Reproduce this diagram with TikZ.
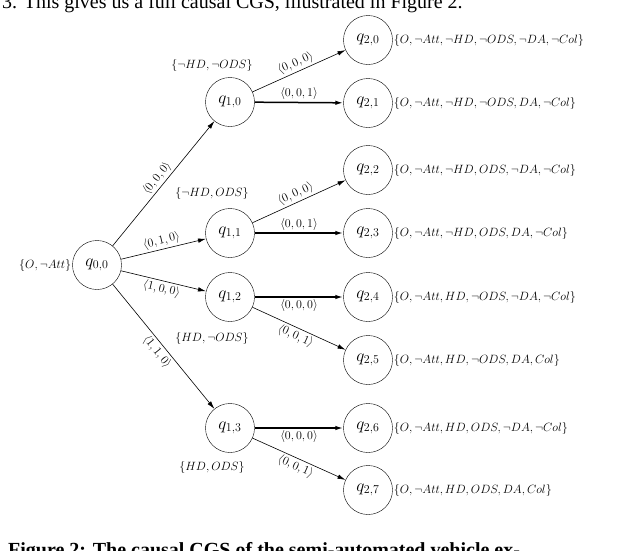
\documentclass[tikz,border=0pt]{standalone}
\usepackage{fontspec}
\setmainfont{Liberation Serif}
\usetikzlibrary{arrows.meta}
\begin{document}
\begin{tikzpicture}[x=1pt,y=-1pt,
  st/.style={circle,draw,minimum size=49pt,inner sep=0pt,font=\fontsize{17.28}{18}\selectfont},
  lab/.style={font=\fontsize{12}{13}\selectfont,inner sep=1pt},
  tr/.style={-{Latex[length=8pt,width=4.5pt]},line width=0.6pt},
  trb/.style={-{Latex[length=8pt,width=4.5pt]},line width=1.5pt},
  el/.style={font=\fontsize{12}{13}\selectfont,inner sep=2pt,sloped}]
\useasboundingbox (0,0) rectangle (640,550);
\clip (0,0) rectangle (640,550);
\node[anchor=base west,font=\fontsize{20}{20}\selectfont,inner sep=0pt] (top) at (2,8) {3. This gives us a full causal CGS, illustrated in Figure 2.};
\node[anchor=base west,font=\bfseries\fontsize{20}{20}\selectfont,inner sep=0pt] (cap) at (8,556) {Figure 2: The causal CGS of the semi-automated vehicle ex-};
\node[st] (q00) at (97,265) {$q_{0,0}$};
\node[st] (q10) at (230,102) {$q_{1,0}$};
\node[st] (q11) at (230,233) {$q_{1,1}$};
\node[st] (q12) at (230,297) {$q_{1,2}$};
\node[st] (q13) at (230,428) {$q_{1,3}$};
\foreach \i/\y in {0/40,1/103,2/170,3/233,4/297,5/360,6/428,7/490}
  \node[st] (q2\i) at (368,\y) {$q_{2,\i}$};
\node[lab,anchor=east] (l00) at (q00.west) {$\{O,\neg Att\}$};
\node[lab] (l10) at (212,65) {$\{\neg HD,\neg ODS\}$};
\node[lab] (l11) at (212,193) {$\{\neg HD, ODS\}$};
\node[lab] (l12) at (212,338) {$\{HD,\neg ODS\}$};
\node[lab] (l13) at (212,467) {$\{HD, ODS\}$};
\node[lab,anchor=west] (l20) at (q20.east) {$\{O,\neg Att,\neg HD,\neg ODS,\neg DA,\neg Col\}$};
\node[lab,anchor=west] (l21) at (q21.east) {$\{O,\neg Att,\neg HD,\neg ODS,DA,\neg Col\}$};
\node[lab,anchor=west] (l22) at (q22.east) {$\{O,\neg Att,\neg HD,ODS,\neg DA,\neg Col\}$};
\node[lab,anchor=west] (l23) at (q23.east) {$\{O,\neg Att,\neg HD,ODS,DA,\neg Col\}$};
\node[lab,anchor=west] (l24) at (q24.east) {$\{O,\neg Att,HD,\neg ODS,\neg DA,\neg Col\}$};
\node[lab,anchor=west] (l25) at (q25.east) {$\{O,\neg Att,HD,\neg ODS,DA,Col\}$};
\node[lab,anchor=west] (l26) at (q26.east) {$\{O,\neg Att,HD,ODS,\neg DA,\neg Col\}$};
\node[lab,anchor=west] (l27) at (q27.east) {$\{O,\neg Att,HD,ODS,DA,Col\}$};
\draw[tr] (q00) -- node[el,above] {$\langle 0,0,0\rangle$} (q10);
\draw[tr] (q00) -- node[el,above] {$\langle 0,1,0\rangle$} (q11);
\draw[tr] (q00) -- node[el,below] {$\langle 1,0,0\rangle$} (q12);
\draw[tr] (q00) -- node[el,below] {$\langle 1,1,0\rangle$} (q13);
\draw[tr] (q10) -- node[el,above] {$\langle 0,0,0\rangle$} (q20);
\draw[trb] (q10) -- node[el,above] {$\langle 0,0,1\rangle$} (q21);
\draw[tr] (q11) -- node[el,above] {$\langle 0,0,0\rangle$} (q22);
\draw[trb] (q11) -- node[el,above] {$\langle 0,0,1\rangle$} (q23);
\draw[trb] (q12) -- node[el,below] {$\langle 0,0,0\rangle$} (q24);
\draw[tr] (q12) -- node[el,below] {$\langle 0,0,1\rangle$} (q25);
\draw[trb] (q13) -- node[el,below] {$\langle 0,0,0\rangle$} (q26);
\draw[tr] (q13) -- node[el,below] {$\langle 0,0,1\rangle$} (q27);
\end{tikzpicture}
\end{document}
